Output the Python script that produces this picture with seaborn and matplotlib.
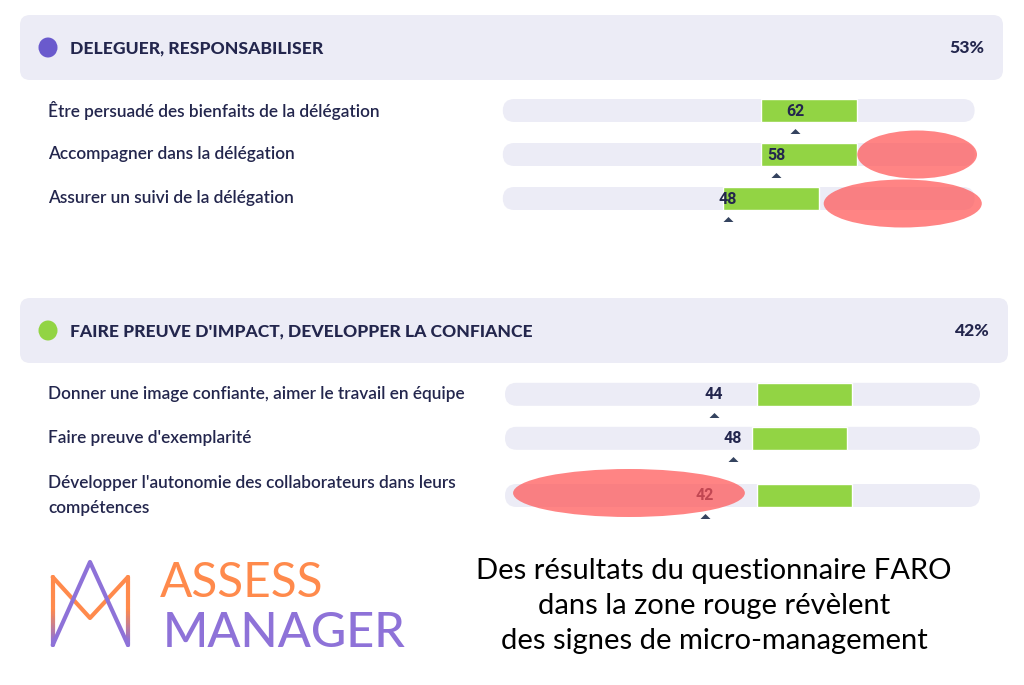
import matplotlib
matplotlib.use("Agg")
import matplotlib.pyplot as plt
import seaborn as sns
import numpy as np
from matplotlib.patches import FancyBboxPatch, Ellipse
from matplotlib.transforms import blended_transform_factory

sns.set_theme(style="white")
plt.rcParams['font.family'] = ['Lato', 'DejaVu Sans']

# ---------------- data ----------------
sec_titles = ["DELEGUER, RESPONSABILISER", "FAIRE PREUVE D'IMPACT, DEVELOPPER LA CONFIANCE"]
sec_scores = ["53%", "42%"]
sec_dot_colors = ["#6a5acd", "#92d444"]

labels1 = ["Être persuadé des bienfaits de la délégation",
           "Accompagner dans la délégation",
           "Assurer un suivi de la délégation"]
values1 = [62, 58, 48]
band_lo1 = [55, 55, 47]
band_hi1 = [75, 75, 67]

labels2 = ["Donner une image confiante, aimer le travail en équipe",
           "Faire preuve d'exemplarité",
           "Développer l'autonomie des collaborateurs dans leurs\ncompétences"]
values2 = [44, 48, 42]
band_lo2 = [53, 52, 53]
band_hi2 = [73, 72, 73]

# red-zone annotations: (x from, x to, row index)
red1 = [(75, 100, 1), (68, 101, 2)]
red2 = [(1.7, 50.5, 2)]

caption = ["Des résultats du questionnaire FARO",
           "dans la zone rouge révèlent",
           "des signes de micro-management"]

# ---------------- style / layout ----------------
W, H = 1024, 685
NAVY = "#23264d"
TRACK = "#ececf6"
GREEN = "#92d444"
TRI = "#34435f"
RED = "#ff5555"

fig = plt.figure(figsize=(W / 100, H / 100), dpi=100)
bg = fig.add_axes([0, 0, 1, 1])
bg.set_xlim(0, W)
bg.set_ylim(H, 0)
bg.axis("off")

# header boxes
headers = [dict(x0=20, x1=1003, y0=15, y1=80), dict(x0=20, x1=1008, y0=298, y1=363)]
for i, hb in enumerate(headers):
    bg.add_patch(FancyBboxPatch((hb["x0"], hb["y0"]), hb["x1"] - hb["x0"], hb["y1"] - hb["y0"],
                                boxstyle="round,pad=0,rounding_size=10", fc=TRACK, ec="none"))
    yc = (hb["y0"] + hb["y1"]) / 2
    bg.add_patch(Ellipse((48, yc), 19, 20, fc=sec_dot_colors[i], ec="none"))
    bg.text(70, yc + 0.5, sec_titles[i], ha="left", va="center", fontsize=12.6,
            fontweight="black", color=NAVY)
    bg.text(hb["x1"] - 19, yc + 0.5, sec_scores[i], ha="right", va="center", fontsize=12.6,
            fontweight="black", color=NAVY)


def section(rect, rows, track, labels, values, lo, hi, reds, red_dy):
    ax = fig.add_axes(rect)
    ax.set_xlim(0, 100)
    ax.set_ylim(max(rows) + 0.5, -0.5)
    ax.axis("off")
    ax.patch.set_alpha(0)
    bb = ax.get_position()
    pxx = bb.width * W / 100.0
    pxy = bb.height * H / (max(rows) + 1.0)
    bh = 23 / pxy
    r = 11.5 / pxx
    for y in rows:
        ax.add_patch(FancyBboxPatch((track[0], y - bh / 2), track[1] - track[0], bh,
                                    boxstyle=f"round,pad=0,rounding_size={r}",
                                    mutation_aspect=pxx / pxy, fc=TRACK, ec="none", zorder=1))
    ax.barh(rows, np.array(hi) - np.array(lo), left=lo, height=bh, color=GREEN, zorder=2)
    tri = [(-1, -0.5), (1, -0.5), (0, 0.5), (-1, -0.5)]
    sns.scatterplot(x=values, y=np.array(rows) + 20.5 / pxy, marker=tri, s=52, color=TRI,
                    linewidth=0, ax=ax, legend=False, zorder=3)
    for v, y in zip(values, rows):
        ax.text(v, y + 0.5 / pxy, str(v), ha="center", va="center", fontsize=11.5,
                fontweight="bold", color=NAVY, family=["Roboto", "DejaVu Sans"], zorder=4)
    tr = blended_transform_factory(fig.transFigure, ax.transData)
    for lab, y in zip(labels, rows):
        ax.text(48 / W, y, lab, transform=tr, ha="left", va="center", fontsize=12.4,
                fontweight="semibold", color=NAVY, linespacing=1.65)
    for (a, b, row), dy in zip(reds, red_dy):
        ax.add_patch(Ellipse(((a + b) / 2, rows[row] + dy / pxy), b - a, 48 / pxy, fc=RED,
                             ec="none", alpha=0.72, zorder=6, clip_on=False))
    return ax


section([498 / W, 1 - 220.5 / H, 479 / W, 132 / H], [0, 1, 2], (1.0, 99.5),
        labels1, values1, band_lo1, band_hi1, red1, [0, 5])
section([505 / W, 1 - 517.5 / H, 475 / W, 145.2 / H], [0, 1, 2.3], (0.0, 100.0),
        labels2, values2, band_lo2, band_hi2, red2, [-2.5])

# logo
ORANGE = "#ff8a4c"
PURPLE = "#8e72d8"
bg.plot([52.7, 90, 128], [645, 562, 645], color=PURPLE, lw=3, solid_capstyle="round",
        solid_joinstyle="round", zorder=3)
bg.plot([52.7, 90, 128], [577, 618, 577], color=ORANGE, lw=3, solid_capstyle="round",
        solid_joinstyle="round", zorder=2)
n = 30
ys = np.linspace(577, 645, n + 1)
cmap = matplotlib.colors.LinearSegmentedColormap.from_list("g", [ORANGE, ORANGE, PURPLE])
for xv in (52.7, 128):
    for k in range(n):
        bg.plot([xv, xv], [ys[k], ys[k + 1]], color=cmap(k / (n - 1)), lw=3,
                solid_capstyle="round", zorder=2)
bg.text(160, 597, "ASSESS", ha="left", va="baseline", fontsize=34.5, fontweight="normal",
        color=ORANGE)
bg.text(163, 647, "MANAGER", ha="left", va="baseline", fontsize=35, fontweight="medium",
        color=PURPLE)

for i, line in enumerate(caption):
    bg.text(714, 579 + 35 * i, line, ha="center", va="baseline", fontsize=21, color="black")

fig.savefig("out.png", dpi=100)
